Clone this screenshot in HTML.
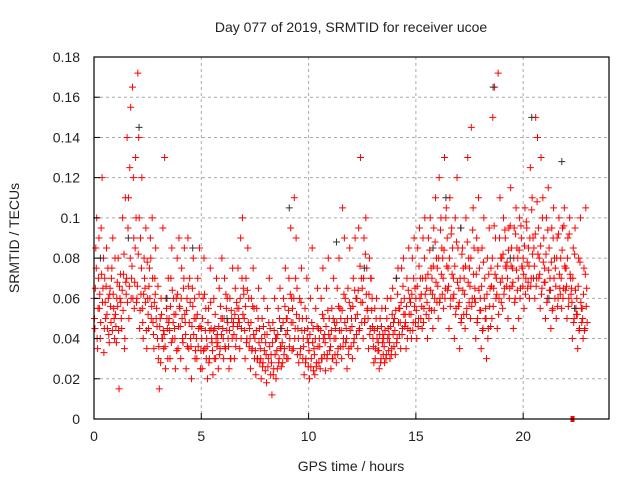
<!DOCTYPE html>
<html><head><meta charset="utf-8"><style>
body{margin:0;background:#fff}
svg text{font-family:"Liberation Sans",sans-serif;font-size:14px;fill:#222}
</style></head><body>
<svg id="c" width="640" height="480">
<text x="351" y="32" text-anchor="middle">Day 077 of 2019, SRMTID for receiver ucoe</text>
<text x="351" y="471" text-anchor="middle">GPS time / hours</text>
<text x="19" y="238" text-anchor="middle" transform="rotate(-90 19 238)">SRMTID / TECUs</text>
<g id="grid"></g><g id="pts"></g>
<rect x="94" y="57" width="515" height="362" fill="none" stroke="#000" stroke-width="1.2"/>
<g id="ticks"></g>
</svg>
<script>
const xTicks=[0,5,10,15,20];
const yTicks=[0,0.02,0.04,0.06,0.08,0.1,0.12,0.14,0.16,0.18];
const yTickLabels=["0","0.02","0.04","0.06","0.08","0.1","0.12","0.14","0.16","0.18"];
const times=[0,0.25,0.5,0.75,1,1.25,1.5,1.75,2,2.25,2.5,2.75,3,3.25,3.5,3.75,4,4.25,4.5,4.75,5,5.25,5.5,5.75,6,6.25,6.5,6.75,7,7.25,7.5,7.75,8,8.25,8.5,8.75,9,9.25,9.5,9.75,10,10.25,10.5,10.75,11,11.25,11.5,11.75,12,12.25,12.5,12.75,13,13.25,13.5,13.75,14,14.25,14.5,14.75,15,15.25,15.5,15.75,16,16.25,16.5,16.75,17,17.25,17.5,17.75,18,18.25,18.5,18.75,19,19.25,19.5,19.75,20,20.25,20.5,20.75,21,21.25,21.5,21.75,22,22.25,22.5,22.75];
// milli-TECU values, 6 samples per time bin
const values=[
[60,45,85,100,35,70],[55,40,95,120,65,33],[70,50,85,45,60,38],[65,48,75,90,55,40],[52,38,68,80,15,60],[58,45,100,72,35,110],[62,140,95,50,125,155],[70,165,120,55,85,100],[60,172,140,45,90,75],[55,40,80,65,95,35],[60,45,75,90,50,100],[48,35,70,85,55,40],[30,15,50,60,40,95],[35,130,25,55,45,70],[50,30,70,85,40,60],[45,25,60,80,35,90],[55,30,75,40,65,85],[48,25,60,90,35,70],[40,20,65,80,50,30],[50,30,70,45,85,25],[45,25,60,80,35,55],[40,20,55,30,75,45],[38,22,60,45,30,70],[42,25,65,35,50,80],[45,30,70,35,55,60],[40,25,60,30,50,75],[48,30,65,40,55,75],[55,35,90,45,100,65],[50,30,70,40,85,60],[45,25,60,35,75,55],[40,22,55,30,65,45],[35,20,50,28,60,42],[38,18,55,30,70,45],[32,12,48,25,60,40],[40,25,55,30,65,35],[45,28,60,35,75,50],[50,30,70,40,95,60],[55,35,110,45,90,65],[45,28,60,35,75,50],[40,22,55,30,70,45],[38,20,60,30,85,45],[35,22,55,28,65,45],[40,25,60,30,75,50],[42,24,65,32,80,50],[40,25,55,30,70,48],[45,28,65,35,80,55],[50,30,105,40,90,60],[45,25,65,35,85,55],[50,30,70,40,90,60],[60,35,95,45,130,70],[65,40,90,50,100,75],[55,35,80,45,70,60],[40,28,55,35,60,45],[38,25,50,30,55,42],[40,28,55,32,60,45],[42,30,60,35,65,48],[50,32,70,40,75,55],[55,35,75,45,80,60],[52,35,70,45,85,60],[58,40,80,48,90,65],[60,40,85,50,95,70],[62,45,90,55,100,70],[65,40,90,55,100,75],[70,45,95,60,110,80],[75,50,120,60,100,85],[80,55,130,65,105,90],[75,45,110,60,95,85],[70,40,100,55,120,85],[65,35,95,50,85,75],[70,45,100,55,130,80],[75,50,145,60,105,85],[65,40,90,50,110,75],[60,35,85,45,100,70],[55,30,80,45,95,65],[75,50,150,65,165,90],[70,45,172,60,110,80],[80,55,100,65,90,75],[78,50,95,65,115,85],[75,45,95,60,105,85],[80,50,100,65,90,75],[80,55,105,70,95,65],[85,60,125,70,110,90],[85,60,150,70,140,95],[80,55,130,65,110,90],[75,50,100,60,115,85],[70,45,95,55,105,80],[75,50,90,60,100,65],[80,55,95,65,105,75],[75,50,90,60,100,70],[65,40,85,50,95,55],[60,35,80,45,100,55],[55,40,75,45,105,65]];
// second sample set (denser core of the cloud)
const values2=[
[50,65,75,40,55,90],[62,48,72,58,80,45],[58,66,52,75,42,62],[56,70,44,62,50,80],[46,60,56,44,66,72],[50,64,54,82,40,68],[70,58,110,66,80,60],[76,60,90,68,130,58],[66,82,100,54,62,120],[48,62,70,58,44,78],[52,66,60,80,56,70],[42,58,62,50,46,66],[36,46,28,52,40,44],[42,36,60,50,30,48],[44,56,38,64,48,52],[40,52,34,62,46,56],[46,60,50,38,70,52],[42,54,36,66,48,58],[36,46,56,42,60,34],[40,52,36,62,46,34],[40,50,34,62,44,30],[36,48,28,44,58,40],[34,44,30,52,40,36],[38,46,32,56,42,50],[40,50,36,62,44,48],[36,44,30,54,40,46],[42,52,36,58,46,50],[48,60,40,70,52,62],[44,56,38,64,48,36],[40,48,34,56,42,30],[34,44,30,50,38,28],[30,40,26,46,34,24],[32,42,26,48,36,22],[28,38,22,44,32,20],[34,42,28,50,36,26],[38,48,32,56,42,30],[44,54,36,62,48,34],[48,60,40,70,52,32],[40,50,32,58,44,30],[36,44,28,50,40,26],[34,42,26,48,38,24],[32,40,26,46,36,28],[36,44,30,52,40,32],[38,46,30,54,42,34],[36,44,30,50,40,32],[40,48,32,56,44,36],[44,54,36,62,48,38],[40,50,32,58,44,36],[46,56,38,64,50,42],[52,64,44,76,58,48],[58,70,48,82,62,54],[50,62,42,70,54,46],[36,44,30,50,40,34],[34,42,28,46,38,32],[36,44,30,50,40,34],[38,46,32,52,42,36],[44,54,38,62,48,42],[48,58,42,66,52,46],[48,56,40,64,52,44],[52,62,44,70,56,48],[54,66,46,76,60,50],[56,70,48,80,62,52],[58,72,50,84,64,54],[62,76,54,88,68,58],[66,80,58,94,72,62],[70,84,60,100,76,64],[66,80,56,92,72,60],[62,76,52,88,68,56],[58,70,48,82,64,52],[62,76,52,88,68,58],[66,80,56,94,72,60],[58,72,48,84,64,54],[54,66,44,78,60,50],[50,62,40,72,56,46],[66,80,56,96,72,60],[62,76,52,90,68,58],[70,82,62,94,76,66],[70,84,60,96,76,66],[68,80,58,92,74,64],[70,84,60,96,76,66],[72,86,62,98,78,68],[76,90,66,104,82,70],[76,92,66,108,82,70],[72,86,62,100,78,68],[68,82,58,94,74,64],[64,78,54,90,70,60],[66,80,56,92,72,62],[70,84,60,96,76,64],[66,80,56,92,72,62],[58,70,48,82,64,52],[52,66,44,78,58,48],[50,62,44,72,56,48]];
const blackTimes=[0.3,1.6,2.1,3.4,4.6,6.2,8.7,9.1,11.3,12.6,14.1,15.8,16.4,17.1,18.6,19.4,20.4,21.2,21.8,22.4];
const blackValues=[80,90,145,60,85,50,45,105,88,75,70,85,110,95,165,80,150,60,128,55];
const flagTime=[22.3];
const X=v=>94+v*(515/24), Y=v=>419-v*(362/0.18);
const NS="http://www.w3.org/2000/svg";
const grid=document.getElementById('grid'),tk=document.getElementById('ticks'),pts=document.getElementById('pts');
function mk(t,a,p){const e=document.createElementNS(NS,t);for(const k in a)e.setAttribute(k,a[k]);p.appendChild(e);return e;}
xTicks.forEach((v,i)=>{
 if(v>0){const g=mk('line',{x1:X(v),x2:X(v),y1:57,y2:419,stroke:'#aaa','stroke-dasharray':'3,3'},grid);
 
 }
 mk('line',{x1:X(v),x2:X(v),y1:419,y2:413,stroke:'#000'},tk);
 const t=mk('text',{x:X(v),y:441,'text-anchor':'middle'},tk);t.textContent=v;
 
 
});
yTicks.forEach((v,i)=>{
 if(v>0){const g=mk('line',{x1:94,x2:609,y1:Y(v),y2:Y(v),stroke:'#aaa','stroke-dasharray':'3,3'},grid);
 
 }
 mk('line',{x1:94,x2:100,y1:Y(v),y2:Y(v),stroke:'#000'},tk);
 const t=mk('text',{x:80,y:Y(v)+5,'text-anchor':'end'},tk);t.textContent=yTickLabels[i];
 
 
});
function plus(x,y,c){const p=mk('path',{d:`M${x-3.5},${y}h7M${x},${y-3.5}v7`,stroke:c,'stroke-width':1},pts);
 
 }
times.forEach((t,i)=>values[i].forEach((v,j)=>plus(X(t+j*0.042),Y(v/1000),'#f00')));
times.forEach((t,i)=>values2[i].forEach((v,j)=>plus(X(t+0.021+j*0.042),Y(v/1000),'#f00')));
blackTimes.forEach((t,i)=>plus(X(t),Y(blackValues[i]/1000),'#333'));
flagTime.forEach(t=>{const r=mk('rect',{x:X(t)-2,y:416,width:4,height:6,fill:'#f00'},pts);
 
 });
</script>
</body></html>
